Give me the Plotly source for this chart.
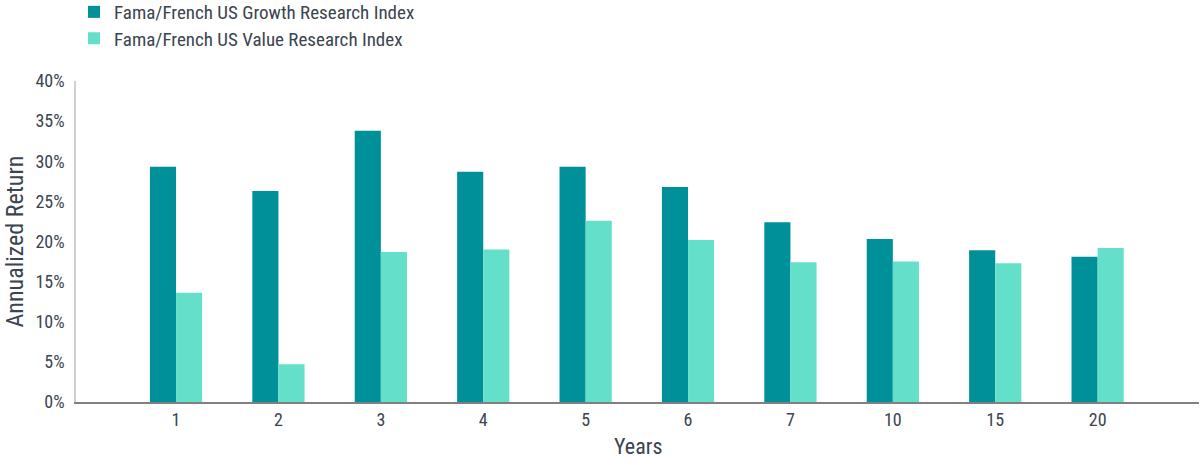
import plotly.graph_objects as go

categories = ["1", "2", "3", "4", "5", "6", "7", "10", "15", "20"]
growth = [29.3, 26.3, 33.8, 28.7, 29.3, 26.8, 22.4, 20.3, 18.9, 18.1]
value = [13.6, 4.7, 18.7, 19.0, 22.6, 20.2, 17.4, 17.5, 17.3, 19.2]
y_ticks = [0, 5, 10, 15, 20, 25, 30, 35, 40]
y_tick_labels = [f"{v}%" for v in y_ticks]

FONT = "Liberation Sans Narrow, Roboto Condensed, Roboto, sans-serif"
TXT = "#3b4451"

W, H = 1200, 462
L, R, T, B = 76, 1, 81, 60
PH = H - T - B

fig = go.Figure()
fig.add_trace(go.Bar(x=categories, y=growth, name="Fama/French US Growth Research Index",
                     marker=dict(color="#00909a", line=dict(width=0)), legend="legend"))
fig.add_trace(go.Bar(x=categories, y=value, name="Fama/French US Value Research Index",
                     marker=dict(color="#64e0ca", line=dict(width=0)), legend="legend2"))

leg_common = dict(xref="container", yref="paper", xanchor="left", yanchor="top",
                  orientation="v", font=dict(size=19, color=TXT, family=FONT),
                  bgcolor="rgba(0,0,0,0)", itemwidth=30)

fig.update_layout(
    width=W, height=H,
    margin=dict(l=L, r=R, t=T, b=B, autoexpand=False),
    paper_bgcolor="white", plot_bgcolor="white",
    barmode="group", bargap=0.49, bargroupgap=0,
    font=dict(family=FONT, color=TXT, size=18),
    showlegend=True,
    legend=dict(x=74 / W, y=1 + (T + 7) / PH, **leg_common),
    legend2=dict(x=74 / W, y=1 + (T - 19.5) / PH, **leg_common),
    xaxis=dict(type="category", range=[-0.977, 9.99], showgrid=False,
               showline=True, linecolor="#808080", linewidth=1.5,
               ticks="", tickfont=dict(size=18, color=TXT), ticklabelstandoff=1),
    yaxis=dict(range=[0, 40], tickvals=y_ticks, ticktext=y_tick_labels,
               showgrid=False, zeroline=False, showline=True,
               linecolor="#d0d0d0", linewidth=1.5, ticks="",
               tickfont=dict(size=18, color=TXT), ticklabelstandoff=6),
    annotations=[
        dict(text="Annualized Return", textangle=-90, xref="paper", yref="paper",
             x=(14 - L) / (W - L - R), y=0.5, xanchor="center", yanchor="middle",
             showarrow=False, font=dict(size=24, color=TXT, family=FONT)),
        dict(text="Years", xref="paper", yref="paper",
             x=0.5, y=-(447 - (H - B)) / PH, xanchor="center", yanchor="middle",
             showarrow=False, font=dict(size=22, color=TXT, family=FONT)),
    ],
)

fig.write_html("out.html", config={"displayModeBar": False},
               post_script="document.body.style.margin='0px';")
